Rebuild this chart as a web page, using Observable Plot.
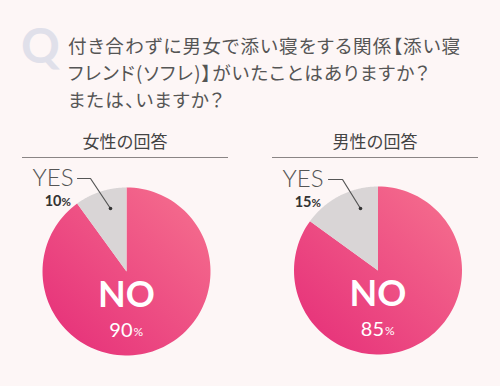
<!DOCTYPE html>
<html><head><meta charset="utf-8">
<script src="https://cdn.jsdelivr.net/npm/d3@7"></script>
<script src="https://cdn.jsdelivr.net/npm/@observablehq/plot@0.6"></script>
<style>
body{margin:0;background:#fdf6f6;}
#wrap{position:relative;width:500px;height:386px;overflow:hidden;font-family:"Noto Sans CJK JP",sans-serif;background:#fdf6f6;}
.q{position:absolute;left:21px;top:15px;font:700 48px Lato,"Open Sans",sans-serif;color:#e0e0ea;line-height:60px;}
.question{position:absolute;left:68px;top:31px;font-size:18.6px;line-height:27px;letter-spacing:1.2px;color:#555;font-feature-settings:"palt";white-space:nowrap;}
.sub{position:absolute;top:129px;width:206px;text-align:center;font-size:17px;line-height:24px;color:#444;border-bottom:1.5px solid #8a8585;padding-bottom:4px;}
.pie{position:absolute;top:160px;}
</style></head>
<body><div id="wrap"></div>
<script>
const questionLines = ["付き合わずに男女で添い寝をする関係【添い寝", "フレンド(ソフレ)】がいたことはありますか？", "または、いますか？"];
const groups = ["女性の回答", "男性の回答"];
const answers = ["NO", "YES"];
const noPct = [90, 85];
const yesPct = [10, 15];

const wrap = document.getElementById("wrap");
const q = document.createElement("div"); q.className = "q"; q.textContent = "Q"; wrap.appendChild(q);
const qt = document.createElement("div"); qt.className = "question";
qt.innerHTML = questionLines.join("<br>"); wrap.appendChild(qt);

const W = 250, H = 226, R = 84;
const centers = [[126, 111], [127.5, 110]];
const subLeft = [22, 272];
const leader = [[[77, 18], [90, 18], [110, 48]], [[78, 19], [92, 19], [110, 48]]];

groups.forEach((g, i) => {
  const s = document.createElement("div"); s.className = "sub"; s.style.left = subLeft[i] + "px"; s.textContent = g; wrap.appendChild(s);
  const [cx, cy] = centers[i];
  const vals = [noPct[i], yesPct[i]];
  const arcs = d3.pie().sort(null)(vals);
  const pts = [];
  arcs.forEach((a, k) => {
    const key = answers[k];
    pts.push({key, x: cx, y: cy});
    const n = 120;
    for (let j = 0; j <= n; j++) {
      const t = a.startAngle + (a.endAngle - a.startAngle) * j / n;
      pts.push({key, x: cx + R * Math.sin(t), y: cy - R * Math.cos(t)});
    }
  });
  const gid = "pg" + i;
  const lead = leader[i].map(([x, y]) => ({x, y}));
  const font = "Lato, 'Open Sans', sans-serif";
  const chart = Plot.plot({
    width: W, height: H, margin: 0,
    x: {domain: [0, W], range: [0, W], axis: null},
    y: {domain: [0, H], range: [0, H], axis: null},
    style: {background: "transparent", overflow: "visible"},
    marks: [
      Plot.line(pts.filter(d => d.key === "NO"), {x: "x", y: "y", curve: "linear-closed", fill: `url(#${gid})`, stroke: "none"}),
      Plot.line(pts.filter(d => d.key === "YES"), {x: "x", y: "y", curve: "linear-closed", fill: "#d9d5d6", stroke: "none"}),
      Plot.line(lead, {x: "x", y: "y", stroke: "#555", strokeWidth: 1.2}),
      Plot.dot([lead[2]], {x: "x", y: "y", r: 1.8, fill: "#333"}),
      Plot.text(["YES"], {x: () => 73, y: () => lead[0].y - 1, text: d => d, textAnchor: "end", fontSize: 24, fontWeight: 300, fill: "#555", fontFamily: font, dy: 1, letterSpacing: "1.3px"}),
      Plot.text([yesPct[i]], {x: () => 61, y: () => lead[0].y + 23, text: d => String(d), textAnchor: "end", fontSize: 14.5, fontWeight: 700, fill: "#333", fontFamily: font}),
      Plot.text(["%"], {x: () => 61, y: () => lead[0].y + 24, text: d => d, textAnchor: "start", fontSize: 11.5, fontWeight: 700, fill: "#333", fontFamily: font}),
      Plot.text([answers[0]], {x: () => cx, y: () => cy + 24, text: d => d, fontSize: 36, fontWeight: 700, fill: "white", fontFamily: font}),
      Plot.text([noPct[i]], {x: () => cx + 6, y: () => cy + 59, text: d => String(d), textAnchor: "end", fontSize: 20, fill: "white", fontFamily: font}),
      Plot.text(["%"], {x: () => cx + 7, y: () => cy + 61, text: d => d, textAnchor: "start", fontSize: 12, fill: "white", fontFamily: font})
    ]
  });
  const defs = d3.select(chart).insert("defs", ":first-child");
  const lg = defs.append("linearGradient").attr("id", gid).attr("x1", 0).attr("y1", 1).attr("x2", 1).attr("y2", 0);
  lg.append("stop").attr("offset", "0%").attr("stop-color", "#e52c78");
  lg.append("stop").attr("offset", "100%").attr("stop-color", "#f6728f");
  const box = document.createElement("div"); box.className = "pie"; box.style.left = (i * 250) + "px";
  box.appendChild(chart); wrap.appendChild(box);
});
</script></body></html>
